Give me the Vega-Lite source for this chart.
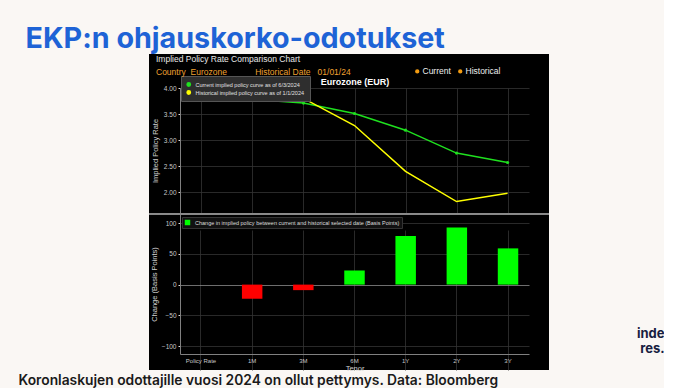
{
  "$schema": "https://vega.github.io/schema/vega-lite/v6.json",
  "background": "#faf7f4",
  "padding": {"left": 18, "top": 25, "right": 0, "bottom": 0},
  "title": {"text": "EKP:n ohjauskorko-odotukset", "anchor": "start", "dx": 7, "fontSize": 28.7, "font": "Inter", "fontWeight": "bold", "color": "#1e63d6", "offset": 0},
  "spacing": 0,
  "resolve": {"scale": {"x": "independent", "y": "independent", "color": "independent", "shape": "independent"}, "legend": {"color": "independent", "shape": "independent"}},
  "config": {
    "font": "Liberation Sans",
    "view": {"fill": "#000000", "stroke": null},
    "axis": {"labelColor": "#c8c8c8", "labelFontSize": 6.5, "titleColor": "#d0d0d0", "titleFontSize": 7.5, "titleFontWeight": "normal", "gridColor": "#333333", "gridWidth": 0.8, "domainColor": "#808080", "tickColor": "#dddddd", "tickSize": 2, "labelPadding": 2}
  },
  "vconcat": [
    {
      "width": 400,
      "height": 159,
      "title": {
        "text": "Implied Policy Rate Comparison Chart",
        "subtitle": "Country\u00a0 Eurozone\u00a0\u00a0\u00a0\u00a0\u00a0\u00a0\u00a0\u00a0\u00a0\u00a0\u00a0 Historical Date\u00a0\u00a0 01/01/24",
        "anchor": "start", "dx": 7, "offset": -22,
        "fontSize": 8.5, "fontWeight": "normal", "color": "#e8e8e8",
        "subtitleColor": "#f0a030", "subtitleFontSize": 8.5, "subtitlePadding": 4
      },
      "data": {"values": [
        {"tenor": "Policy Rate", "short": "Current", "curve": "Current implied policy curve as of 6/3/2024", "rate": 4.0},
        {"tenor": "1M", "short": "Current", "curve": "Current implied policy curve as of 6/3/2024", "rate": 3.78},
        {"tenor": "3M", "short": "Current", "curve": "Current implied policy curve as of 6/3/2024", "rate": 3.71},
        {"tenor": "6M", "short": "Current", "curve": "Current implied policy curve as of 6/3/2024", "rate": 3.51},
        {"tenor": "1Y", "short": "Current", "curve": "Current implied policy curve as of 6/3/2024", "rate": 3.19},
        {"tenor": "2Y", "short": "Current", "curve": "Current implied policy curve as of 6/3/2024", "rate": 2.75},
        {"tenor": "3Y", "short": "Current", "curve": "Current implied policy curve as of 6/3/2024", "rate": 2.57},
        {"tenor": "Policy Rate", "short": "Historical", "curve": "Historical implied policy curve as of 1/1/2024", "rate": 4.0},
        {"tenor": "1M", "short": "Historical", "curve": "Historical implied policy curve as of 1/1/2024", "rate": 4.01},
        {"tenor": "3M", "short": "Historical", "curve": "Historical implied policy curve as of 1/1/2024", "rate": 3.8},
        {"tenor": "6M", "short": "Historical", "curve": "Historical implied policy curve as of 1/1/2024", "rate": 3.28},
        {"tenor": "1Y", "short": "Historical", "curve": "Historical implied policy curve as of 1/1/2024", "rate": 2.4},
        {"tenor": "2Y", "short": "Historical", "curve": "Historical implied policy curve as of 1/1/2024", "rate": 1.82},
        {"tenor": "3Y", "short": "Historical", "curve": "Historical implied policy curve as of 1/1/2024", "rate": 1.98}
      ]},
      "encoding": {
        "x": {"field": "tenor", "type": "ordinal", "sort": ["Policy Rate", "1M", "3M", "6M", "1Y", "2Y", "3Y"],
          "scale": {"type": "point", "range": [31, 380], "padding": 0.42},
          "axis": {"orient": "top", "offset": -34, "labels": false, "ticks": false, "domain": false, "grid": true, "title": "Eurozone (EUR)", "titleColor": "#ffffff", "titleFontSize": 9, "titleFontWeight": "bold", "titlePadding": 2}},
        "y": {"field": "rate", "type": "quantitative",
          "scale": {"domain": [1.6, 4.0], "range": [159, 34], "nice": false, "zero": false},
          "axis": {"offset": -31, "values": [2, 2.5, 3, 3.5, 4], "format": ".2f", "title": "Implied Policy Rate", "titlePadding": 4, "grid": true}},
        "color": {"field": "curve", "type": "nominal",
          "scale": {"domain": ["Current implied policy curve as of 6/3/2024", "Historical implied policy curve as of 1/1/2024"], "range": ["#1fe01f", "#ffff00"]},
          "legend": {"orient": "none", "legendX": 32, "legendY": 22, "title": null, "fillColor": "#2e2e2e", "strokeColor": "#555555", "padding": 5, "labelFontSize": 5.5, "labelColor": "#e0e0e0", "symbolSize": 8, "symbolType": "circle", "symbolStrokeWidth": 2, "rowPadding": 1, "clipHeight": 7, "labelLimit": 300}}
      },
      "layer": [
        {
          "mark": {"type": "line", "strokeWidth": 1.5}
        },
        {
          "transform": [{"filter": "datum.short === 'Current'"}],
          "mark": {"type": "point", "filled": true, "size": 10, "opacity": 1},
          "encoding": {
            "shape": {"field": "short", "type": "nominal",
              "scale": {"domain": ["Current", "Historical"], "range": ["circle", "circle"]},
              "legend": {"orient": "none", "legendX": 264, "legendY": 13, "direction": "horizontal", "title": null, "symbolType": "circle", "symbolSize": 8, "symbolFillColor": "#f39c12", "symbolStrokeColor": "#f39c12", "labelColor": "#eeeeee", "labelFontSize": 8.5, "columnPadding": 4, "labelOffset": 1}}
          }
        }
      ]
    },
    {
      "width": 400,
      "height": 156,
      "title": {"text": "Koronlaskujen odottajille vuosi 2024 on ollut pettymys. Data: Bloomberg", "orient": "bottom", "anchor": "start", "dx": -130, "offset": 2, "fontSize": 13.8, "font": "Inter", "fontWeight": 600, "color": "#1a1a1a"},
      "data": {"values": [
        {"tenor": "Policy Rate", "bp": 0, "measure": "Change in implied policy between current and historical selected date (Basis Points)"},
        {"tenor": "1M", "bp": -23, "measure": "Change in implied policy between current and historical selected date (Basis Points)"},
        {"tenor": "3M", "bp": -9, "measure": "Change in implied policy between current and historical selected date (Basis Points)"},
        {"tenor": "6M", "bp": 23, "measure": "Change in implied policy between current and historical selected date (Basis Points)"},
        {"tenor": "1Y", "bp": 79, "measure": "Change in implied policy between current and historical selected date (Basis Points)"},
        {"tenor": "2Y", "bp": 93, "measure": "Change in implied policy between current and historical selected date (Basis Points)"},
        {"tenor": "3Y", "bp": 59, "measure": "Change in implied policy between current and historical selected date (Basis Points)"}
      ]},
      "layer": [
        {
          "mark": {"type": "bar"},
          "encoding": {
            "x": {"field": "tenor", "type": "ordinal", "sort": ["Policy Rate", "1M", "3M", "6M", "1Y", "2Y", "3Y"],
              "scale": {"type": "band", "range": [31, 380], "paddingInner": 0.6, "paddingOuter": 0.21},
              "axis": {"orient": "bottom", "offset": -16, "bandPosition": 0.5, "grid": true, "title": "Tenor", "labelAngle": 0, "labelFontSize": 6, "ticks": false, "titlePadding": 1, "labelPadding": 3}},
            "y": {"field": "bp", "type": "quantitative",
              "scale": {"domain": [-113, 115], "range": [140, 0], "nice": false},
              "axis": {"offset": -31, "values": [-100, -50, 0, 50, 100], "title": "Change (Basis Points)", "titlePadding": 3,
                "gridColor": {"condition": {"test": "datum.value === 0", "value": "#8a8a8a"}, "value": "#333333"}}},
            "color": {"condition": {"test": "datum.bp < 0", "value": "#ff0000"}, "field": "measure", "type": "nominal",
              "scale": {"range": ["#00ff00"]},
              "legend": {"orient": "none", "legendX": 33, "legendY": 3, "title": null, "symbolType": "square", "symbolSize": 30, "labelFontSize": 5.5, "labelColor": "#dddddd", "fillColor": "#111111", "strokeColor": "#333333", "padding": 2, "labelLimit": 400}}
          }
        },
        {
          "mark": {"type": "rule", "color": "#8a8a8a", "strokeWidth": 1},
          "encoding": {
            "y": {"datum": 115,
              "scale": {"domain": [-113, 115], "range": [140, 0], "nice": false, "zero": false},
              "axis": {"orient": "right", "labels": false, "ticks": false, "domain": false, "grid": false, "title": ["inde", "res."], "titleAngle": 0, "titleAlign": "right", "titleBaseline": "alphabetic", "titleX": 115, "titleY": 123, "titleFont": "Inter", "titleFontSize": 13, "titleFontWeight": "bold", "titleColor": "#172040", "titleLineHeight": 15}}
          }
        }
      ],
      "resolve": {"scale": {"y": "independent"}}
    }
  ]
}
